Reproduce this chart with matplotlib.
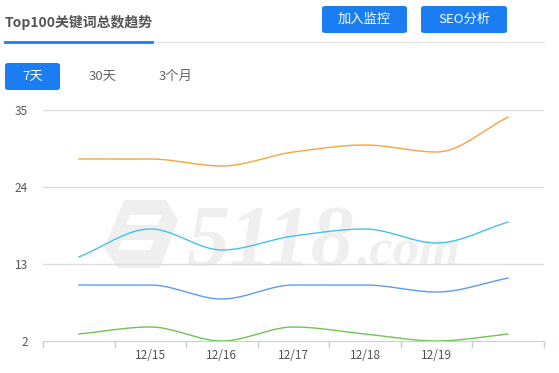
import numpy as np
import matplotlib
matplotlib.use('Agg')
import matplotlib.pyplot as plt
from matplotlib.patches import FancyBboxPatch, Polygon

plt.rcParams['font.family'] = ['Noto Sans CJK SC', 'DejaVu Sans']

# 数据
dates = ['12/14', '12/15', '12/16', '12/17', '12/18', '12/19', '12/20']
top_orange = [28, 28, 27, 29, 30, 29, 34]
top_cyan = [14, 18, 15, 17, 18, 16, 19]
top_blue = [10, 10, 8, 10, 10, 9, 11]
top_green = [3, 4, 2, 4, 3, 2, 3]
y_ticks = [2, 13, 24, 35]
series = [(top_orange, '#f6a43f'), (top_cyan, '#47c1ea'),
          (top_blue, '#5b9cf0'), (top_green, '#6cc653')]

W, H = 559, 373
fig = plt.figure(figsize=(W / 100, H / 100), dpi=100)


def fx(px):
    return px / W


def fy(py):
    return 1 - py / H


# 平滑曲线 (单调三次插值)
def smooth(x, y, n=40):
    x = np.asarray(x, float)
    y = np.asarray(y, float)
    h = np.diff(x)
    d = np.diff(y) / h
    m = np.zeros_like(y)
    m[0], m[-1] = d[0], d[-1]
    for k in range(1, len(y) - 1):
        if d[k - 1] * d[k] > 0:
            w1 = 2 * h[k] + h[k - 1]
            w2 = h[k] + 2 * h[k - 1]
            m[k] = (w1 + w2) / (w1 / d[k - 1] + w2 / d[k])
    xs, ys = [], []
    for k in range(len(x) - 1):
        t = np.linspace(0, 1, n)
        h00 = 2 * t**3 - 3 * t**2 + 1
        h10 = t**3 - 2 * t**2 + t
        h01 = -2 * t**3 + 3 * t**2
        h11 = t**3 - t**2
        xs.append(x[k] + t * h[k])
        ys.append(h00 * y[k] + h10 * h[k] * m[k] + h01 * y[k + 1] + h11 * h[k] * m[k + 1])
    return np.concatenate(xs), np.concatenate(ys)


# 水印
wm = '#efefef'
logo = [(124, 200), (166, 200), (178, 220), (160, 268), (118, 268), (104, 248)]
fig.patches.append(Polygon([(fx(a), fy(b)) for a, b in logo], closed=True,
                           transform=fig.transFigure, facecolor=wm,
                           edgecolor='none', zorder=-2))
for bar in [[(130, 215), (162, 215), (158, 225), (126, 225)],
            [(122, 240), (154, 240), (150, 250), (118, 250)]]:
    fig.patches.append(Polygon([(fx(a), fy(b)) for a, b in bar], closed=True,
                               transform=fig.transFigure, facecolor='white',
                               edgecolor='none', zorder=-1))
fig.text(fx(186), fy(265), '5118', fontsize=62, style='italic', fontweight='bold',
         color=wm, family='Liberation Serif', zorder=-1, va='baseline')
fig.text(fx(357), fy(265), '.com', fontsize=38, style='italic', fontweight='bold',
         color=wm, family='Liberation Serif', zorder=-1, va='baseline')

ax = fig.add_axes([fx(43), fy(341), fx(544) - fx(43), (341 - 110) / H])
ax.patch.set_alpha(0)

x = np.arange(len(dates))
for vals, c in series:
    sx, sy = smooth(x, vals)
    ax.plot(sx, sy, color=c, lw=1.0, solid_capstyle='round')

ax.set_xlim(-0.5, len(dates) - 0.5)
ax.set_ylim(y_ticks[0], y_ticks[-1])
ax.set_yticks(y_ticks)
ax.set_yticklabels([str(v) for v in y_ticks], fontsize=8.5, color='#555555')
ax.tick_params(axis='y', length=0, pad=11)
for v in y_ticks[1:]:
    ax.axhline(v, color='#dcdcdc', lw=1, zorder=0)

ax.set_xticks(x)
ax.set_xticklabels([''] + dates[1:-1] + [''], fontsize=8.5, color='#555555')
ax.tick_params(axis='x', which='major', length=0, pad=6)
ax.set_xticks(np.arange(-0.5, len(dates)), minor=True)
ax.tick_params(axis='x', which='minor', length=5, color='#c4d1de', width=1)

for s in ['top', 'right', 'left']:
    ax.spines[s].set_visible(False)
ax.spines['bottom'].set_color('#c4d1de')

# 顶部标题和按钮
fig.text(fx(5), fy(22), 'Top100关键词总数趋势', fontsize=10, fontweight='bold',
         color='#555555', va='center', ha='left')
fig.add_artist(plt.Line2D([fx(5), fx(544)], [fy(42), fy(42)], color='#e6e6e6',
                          lw=1, transform=fig.transFigure))
fig.add_artist(plt.Line2D([fx(5), fx(152)], [fy(42), fy(42)], color='#1a7ef2',
                          lw=2, transform=fig.transFigure))

blue = '#1a7ef2'


def button(x0, y0, x1, y1, label, fc, tc):
    fig.patches.append(FancyBboxPatch((fx(x0), fy(y1)), fx(x1) - fx(x0), fy(y0) - fy(y1),
                                      boxstyle='round,pad=0,rounding_size=0.006',
                                      transform=fig.transFigure, facecolor=fc,
                                      edgecolor='none'))
    fig.text(fx((x0 + x1) / 2), fy((y0 + y1) / 2), label, fontsize=9.5, color=tc,
             ha='center', va='center')


button(322, 6, 407, 33, '加入监控', blue, 'white')
button(421, 6, 507, 33, 'SEO分析', blue, 'white')
button(5, 63, 60, 90, '7天', blue, 'white')
fig.text(fx(103), fy(76), '30天', fontsize=9.5, color='#666666', ha='center', va='center')
fig.text(fx(176), fy(76), '3个月', fontsize=9.5, color='#666666', ha='center', va='center')

fig.savefig('out.png', dpi=100)
